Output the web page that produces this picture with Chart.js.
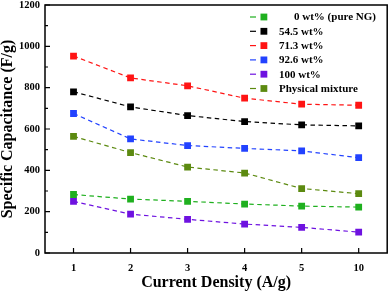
<!DOCTYPE html>
<html>
<head>
<meta charset="utf-8">
<script src="https://cdn.jsdelivr.net/npm/chart.js@4.4.0/dist/chart.umd.min.js"></script>
<style>
    html, body { margin: 0; padding: 0; background: #fff; }
    #wrap { width: 392px; height: 292px; }
</style>
</head>
<body>
<div id="wrap"><canvas id="chart" width="392" height="292"></canvas></div>
<script>
    // data
    const categories = ['1', '2', '3', '4', '5', '10'];
    const seriesNames = ['0 wt% (pure NG)', '54.5 wt%', '71.3 wt%', '92.6 wt%', '100 wt%', 'Physical mixture'];
    const pureNG = [283, 261, 250, 237, 227, 222];
    const wt545 = [780, 707, 665, 636, 620, 615];
    const wt713 = [953, 847, 809, 749, 720, 715];
    const wt926 = [675, 552, 520, 506, 494, 461];
    const wt100 = [250, 188, 163, 140, 124, 101];
    const physMix = [564, 486, 416, 387, 312, 287];
    const yTicks = [0, 200, 400, 600, 800, 1000, 1200];

    const colors = ['#1fb01f', '#000000', '#ff1414', '#2242ff', '#6e12e0', '#5c8a10'];
    const allValues = [pureNG, wt545, wt713, wt926, wt100, physMix];

    const serif = "'Liberation Serif', 'DejaVu Serif', serif";

    const datasets = allValues.map((vals, i) => ({
        label: seriesNames[i],
        data: vals,
        borderColor: colors[i],
        backgroundColor: colors[i],
        borderWidth: 1.2,
        borderDash: [4.5, 3.5],
        pointStyle: 'rect',
        pointRadius: 4.8,
        pointHoverRadius: 4.8,
        pointBorderWidth: 0,
        tension: 0
    }));

    // frame, inside ticks and the legend box at top right
    const framePlugin = {
        id: 'frame',
        afterDraw(chart) {
            const {ctx, chartArea: a, scales} = chart;
            ctx.save();
            ctx.strokeStyle = '#000';
            ctx.lineWidth = 1.5;
            ctx.strokeRect(a.left, a.top, a.right - a.left, a.bottom - a.top);

            ctx.lineWidth = 1.2;
            ctx.beginPath();
            for (let v = 0; v <= 1200; v += 100) {
                const y = scales.y.getPixelForValue(v);
                const len = v % 200 === 0 ? 5 : 3;
                ctx.moveTo(a.left, y);
                ctx.lineTo(a.left + len, y);
            }
            categories.forEach((c, i) => {
                const x = scales.x.getPixelForValue(i);
                ctx.moveTo(x, a.bottom);
                ctx.lineTo(x, a.bottom - 5);
            });
            ctx.stroke();

            // legend
            const lx = 250, ly = 17, step = 14.3;
            ctx.font = 'bold 11px ' + serif;
            ctx.textBaseline = 'middle';
            ctx.fillStyle = '#000';
            seriesNames.forEach((name, i) => {
                const y = ly + i * step;
                ctx.strokeStyle = colors[i];
                ctx.lineWidth = 1.2;
                ctx.beginPath();
                ctx.moveTo(lx, y);
                ctx.lineTo(lx + 6, y);
                ctx.stroke();
                ctx.fillStyle = colors[i];
                ctx.fillRect(lx + 10.5, y - 3.4, 6.8, 6.8);
                ctx.fillStyle = '#000';
                ctx.fillText(name, i === 0 ? 294 : 279, y + 0.5);
            });
            ctx.restore();
        }
    };

    new Chart(document.getElementById('chart'), {
        type: 'line',
        data: {labels: categories, datasets: datasets},
        options: {
            responsive: false,
            animation: false,
            layout: {padding: {top: 5, right: 2, left: 0, bottom: 0}},
            plugins: {legend: {display: false}, tooltip: {enabled: false}},
            scales: {
                x: {
                    type: 'category',
                    offset: true,
                    grid: {display: false, drawTicks: false},
                    border: {display: false},
                    ticks: {
                        color: '#000',
                        padding: 9,
                        font: {family: serif, size: 10.5, weight: 'bold'}
                    },
                    title: {
                        display: true,
                        text: 'Current Density (A/g)',
                        color: '#000',
                        padding: {top: 0, bottom: 1},
                        font: {family: serif, size: 16, weight: 'bold', lineHeight: 1}
                    },
                    afterFit(scale) { scale.height = 39; }
                },
                y: {
                    min: 0,
                    max: 1200,
                    grid: {display: false, drawTicks: false},
                    border: {display: false},
                    afterBuildTicks(scale) { scale.ticks = yTicks.map(v => ({value: v})); },
                    ticks: {
                        color: '#000',
                        padding: 5,
                        callback: (v) => String(v),
                        font: {family: serif, size: 10.5, weight: 'bold'}
                    },
                    title: {
                        display: true,
                        text: 'Specific Capacitance (F/g)',
                        color: '#000',
                        padding: {top: 0, bottom: 0},
                        font: {family: serif, size: 16, weight: 'bold', lineHeight: 1}
                    },
                    afterFit(scale) {
                        scale.width = 45;
                        scale.paddingTop = 0;
                        scale.paddingBottom = 0;
                    }
                }
            }
        },
        plugins: [framePlugin]
    });
</script>
</body>
</html>
